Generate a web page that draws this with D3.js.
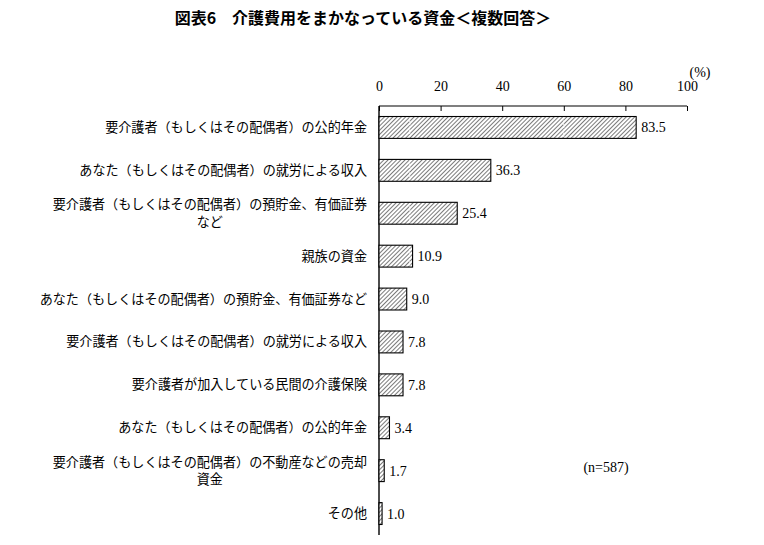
<!DOCTYPE html>
<html><head><meta charset="utf-8">
<script src="https://cdn.jsdelivr.net/npm/d3@7"></script>
<style>body{margin:0;background:#fff}</style>
</head><body>
<script>
const categories = [
  ["要介護者（もしくはその配偶者）の公的年金"],
  ["あなた（もしくはその配偶者）の就労による収入"],
  ["要介護者（もしくはその配偶者）の預貯金、有価証券","など"],
  ["親族の資金"],
  ["あなた（もしくはその配偶者）の預貯金、有価証券など"],
  ["要介護者（もしくはその配偶者）の就労による収入"],
  ["要介護者が加入している民間の介護保険"],
  ["あなた（もしくはその配偶者）の公的年金"],
  ["要介護者（もしくはその配偶者）の不動産などの売却","資金"],
  ["その他"]
];
const values = [83.5, 36.3, 25.4, 10.9, 9.0, 7.8, 7.8, 3.4, 1.7, 1.0];
const tickValues = [0, 20, 40, 60, 80, 100];

const W = 764, H = 545;
const svg = d3.select("body").append("svg").attr("width", W).attr("height", H);
const jp = "'Noto Sans CJK JP', sans-serif";
const serif = "'Liberation Serif', 'DejaVu Serif', serif";
const labelSize = 13.1;

const defs = svg.append("defs");
const pat = defs.append("pattern").attr("id","hatch").attr("patternUnits","userSpaceOnUse")
  .attr("width",3).attr("height",3).attr("patternTransform","rotate(45)");
pat.append("rect").attr("width",3).attr("height",3).attr("fill","#fff");
pat.append("line").attr("x1",0).attr("y1",0).attr("x2",0).attr("y2",3).attr("stroke","#222").attr("stroke-width",1.2);

const x = d3.scaleLinear().domain([0,100]).range([379, 687]);
const y = d3.scaleBand().domain(d3.range(categories.length)).range([106, 535]).paddingInner(0.49).paddingOuter(0.245);

svg.append("text").attr("x", 363).attr("y", 24).attr("text-anchor","middle")
  .attr("font-family", jp).attr("font-weight","bold").attr("font-size",16)
  .text("図表6　介護費用をまかなっている資金＜複数回答＞");

const axis = d3.axisTop(x).tickValues(tickValues).tickSize(-5).tickPadding(0).tickFormat(d3.format("d"));
const ag = svg.append("g").attr("transform","translate(0,106)").call(axis);
ag.select(".domain").remove();
ag.selectAll("line").attr("stroke","#000");
ag.selectAll("text").attr("font-family", serif).attr("font-size",14).attr("fill","#000").attr("y",-15);
svg.append("line").attr("x1",x(0)).attr("x2",x(100)).attr("y1",106).attr("y2",106).attr("stroke","#000").attr("stroke-width",1.2);
svg.append("line").attr("x1",x(0)).attr("x2",x(0)).attr("y1",106).attr("y2",535).attr("stroke","#000").attr("stroke-width",1.4);

svg.append("text").attr("x", 700).attr("y", 77).attr("text-anchor","middle")
  .attr("font-family", serif).attr("font-size",14).text("(%)");

const bars = svg.append("g");
bars.selectAll("rect").data(values).join("rect")
  .attr("x", x(0)).attr("y",(d,i)=>y(i)).attr("width", d=>x(d)-x(0)).attr("height", y.bandwidth())
  .attr("fill","url(#hatch)").attr("stroke","#000").attr("stroke-width",1.1);

// white dotted lines visible inside bars
[10, 60].forEach(v=>{
  values.forEach((d,i)=>{
    if (d > v) bars.append("line").attr("x1",x(v)).attr("x2",x(v)).attr("y1",y(i)+1).attr("y2",y(i)+y.bandwidth()-1)
      .attr("stroke","#fff").attr("stroke-width",1).attr("stroke-dasharray","1.5,1.5");
  });
});

svg.append("g").selectAll("text").data(values).join("text")
  .attr("x", d=>x(d)+5).attr("y",(d,i)=>y(i)+y.bandwidth()/2+5)
  .attr("font-family", serif).attr("font-size",14).attr("fill","#000")
  .text(d=>d.toFixed(1));

const lg = svg.append("g");
categories.forEach((lines,i)=>{
  const cy = y(i)+y.bandwidth()/2;
  if (lines.length === 1) {
    lg.append("text").attr("x",367).attr("y",cy+4.5).attr("text-anchor","end")
      .attr("font-family", jp).attr("font-size",labelSize).text(lines[0]);
  } else {
    const t1 = lg.append("text").attr("x",367).attr("y",cy-4).attr("text-anchor","end")
      .attr("font-family", jp).attr("font-size",labelSize).text(lines[0]);
    const w = t1.node().getComputedTextLength();
    lg.append("text").attr("x",367 - w/2).attr("y",cy+13.5).attr("text-anchor","middle")
      .attr("font-family", jp).attr("font-size",labelSize).text(lines[1]);
  }
});

svg.append("text").attr("x",606).attr("y",472).attr("text-anchor","middle")
  .attr("font-family", serif).attr("font-size",14).text("(n=587)");
</script>
</body></html>
